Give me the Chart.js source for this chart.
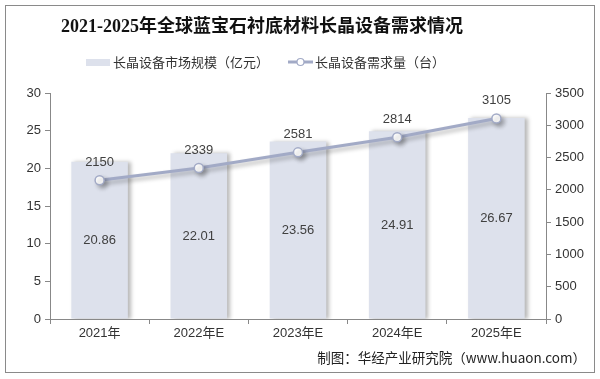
<!DOCTYPE html>
<html>
<head>
<meta charset="utf-8">
<script src="https://cdn.jsdelivr.net/npm/chart.js@4"></script>
<style>
  body { margin: 0; background: #fff; }
  #wrap { width: 600px; height: 379px; position: relative; }
</style>
</head>
<body>
<div id="wrap"><canvas id="barChart" width="600" height="379"></canvas></div>
<script>
const years = ['2021年', '2022年E', '2023年E', '2024年E', '2025年E'];
const marketSize = [20.86, 22.01, 23.56, 24.91, 26.67];
const demand = [2150, 2339, 2581, 2814, 3105];

const FONT = '"Liberation Sans", "Noto Sans CJK SC", sans-serif';
const lineColor = '#a2aac6';
const barColor = '#dde1ec';

// shadow under bars and line
const shadowPlugin = {
  id: 'shadow',
  beforeDatasetDraw(chart, args) {
    const ctx = chart.ctx;
    ctx.save();
    ctx.shadowColor = 'rgba(0,0,0,0.28)';
    ctx.shadowBlur = 4;
    ctx.shadowOffsetX = 3;
    ctx.shadowOffsetY = args.index === 1 ? 3 : 0;
  },
  afterDatasetDraw(chart) {
    chart.ctx.restore();
  }
};

const decorPlugin = {
  id: 'decor',
  beforeDraw(chart) {
    const ctx = chart.ctx;
    ctx.save();
    ctx.fillStyle = '#fff';
    ctx.fillRect(0, 0, 600, 379);
    ctx.strokeStyle = '#8a8a8a';
    ctx.lineWidth = 1;
    ctx.strokeRect(5.5, 5.5, 589, 367);
    ctx.restore();
  },
  afterDraw(chart) {
    const ctx = chart.ctx;
    ctx.save();
    // title
    ctx.fillStyle = '#111';
    ctx.font = 'bold 18px "Liberation Serif", "Noto Sans CJK SC", serif';
    ctx.textAlign = 'center';
    ctx.textBaseline = 'middle';
    ctx.fillText('2021-2025年全球蓝宝石衬底材料长晶设备需求情况', 262, 27);

    // legend
    ctx.font = '13px "Noto Sans CJK SC", sans-serif';
    ctx.textAlign = 'left';
    ctx.fillStyle = barColor;
    ctx.fillRect(86, 59, 24, 7);
    ctx.fillStyle = '#333';
    ctx.fillText('长晶设备市场规模（亿元）', 113, 62);
    ctx.strokeStyle = lineColor;
    ctx.lineWidth = 3;
    ctx.beginPath();
    ctx.moveTo(288, 62);
    ctx.lineTo(313, 62);
    ctx.stroke();
    ctx.beginPath();
    ctx.arc(300.5, 62, 3.5, 0, Math.PI * 2);
    ctx.fillStyle = '#fff';
    ctx.fill();
    ctx.lineWidth = 1.2;
    ctx.stroke();
    ctx.fillStyle = '#333';
    ctx.fillText('长晶设备需求量（台）', 315, 62);

    // value labels
    ctx.font = '13px ' + FONT;
    ctx.textAlign = 'center';
    ctx.fillStyle = '#404040';
    const bars = chart.getDatasetMeta(0).data;
    const yScale = chart.scales.y;
    bars.forEach((bar, i) => {
      const mid = (bar.y + yScale.getPixelForValue(0)) / 2;
      ctx.fillText(marketSize[i].toFixed(2), bar.x, mid);
    });
    const pts = chart.getDatasetMeta(1).data;
    pts.forEach((p, i) => {
      ctx.fillText(String(demand[i]), p.x, p.y - 18);
    });

    // footer
    ctx.font = '13.5px "Noto Sans CJK SC", sans-serif';
    ctx.textAlign = 'right';
    ctx.fillStyle = '#222';
    ctx.fillText('制图：华经产业研究院（www.huaon.com）', 586, 358);
    ctx.restore();
  }
};

const ctx = document.getElementById('barChart');
new Chart(ctx, {
  data: {
    labels: years,
    datasets: [
      {
        type: 'bar',
        label: '长晶设备市场规模（亿元）',
        data: marketSize,
        backgroundColor: barColor,
        barPercentage: 0.57,
        categoryPercentage: 1,
        yAxisID: 'y',
        order: 2
      },
      {
        type: 'line',
        label: '长晶设备需求量（台）',
        data: demand,
        borderColor: lineColor,
        borderWidth: 3,
        pointRadius: 4.5,
        pointBackgroundColor: '#fff',
        pointBorderColor: lineColor,
        pointBorderWidth: 1.5,
        yAxisID: 'y1',
        order: 1
      }
    ]
  },
  options: {
    responsive: false,
    animation: false,
    layout: { padding: { top: 93, left: 6, right: 8, bottom: 36 } },
    plugins: {
      legend: { display: false },
      tooltip: { enabled: false }
    },
    scales: {
      x: {
        offset: true,
        grid: { display: true, drawOnChartArea: false, offset: true, tickLength: 5, color: '#888' },
        border: { color: '#888' },
        ticks: { color: '#333', font: { size: 13, family: FONT }, padding: 2 },
        afterFit(s) { s.height = 24; }
      },
      y: {
        position: 'left',
        min: 0, max: 30,
        ticks: { stepSize: 5, color: '#333', font: { size: 13, family: FONT }, padding: 4 },
        grid: { display: true, drawOnChartArea: false, tickLength: 5, color: '#888' },
        border: { color: '#888' },
        afterFit(s) { s.width = 44; }
      },
      y1: {
        position: 'right',
        min: 0, max: 3500,
        ticks: {
          stepSize: 500, color: '#333', font: { size: 13, family: FONT }, padding: 4,
          callback: (v) => String(v)
        },
        grid: { display: true, drawOnChartArea: false, tickLength: 5, color: '#888' },
        border: { color: '#888' },
        afterFit(s) { s.width = 46; }
      }
    }
  },
  plugins: [decorPlugin, shadowPlugin]
});
</script>
</body>
</html>
